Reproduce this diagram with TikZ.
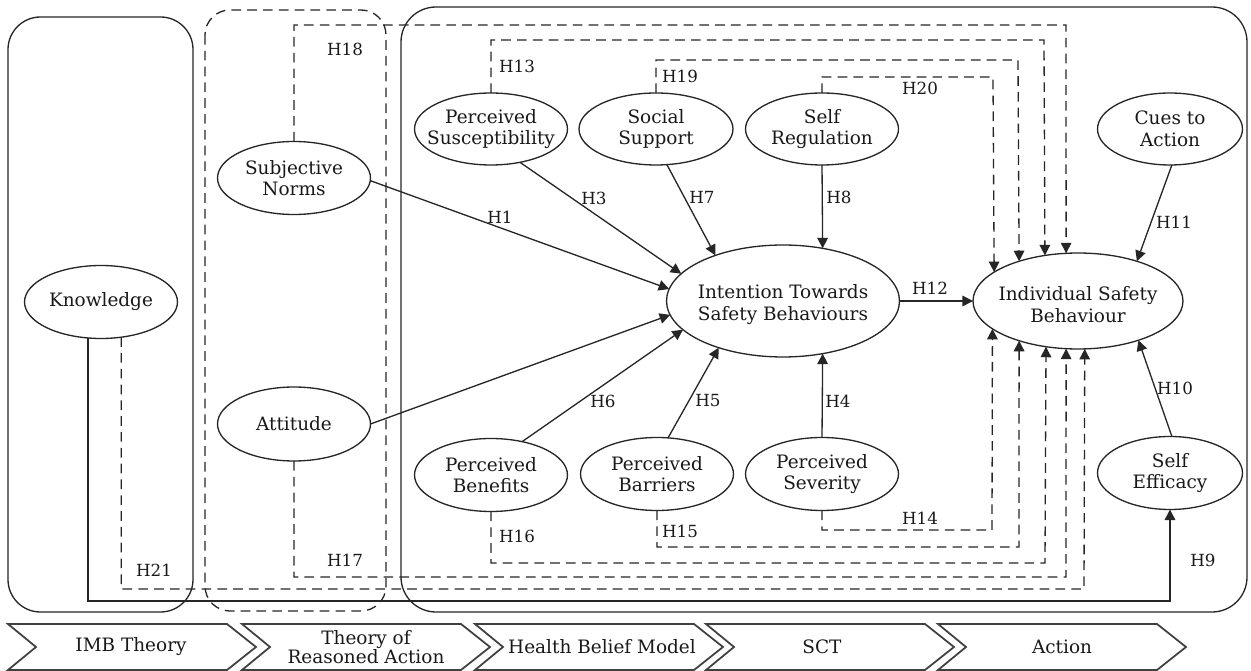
\documentclass[tikz,border=0pt]{standalone}
\usepackage{fontspec}
\setmainfont{DejaVu Serif}
\usetikzlibrary{arrows.meta,shapes.geometric}
\begin{document}
\begin{tikzpicture}[x=0.02cm,y=-0.02cm,
  ink/.style={draw=black!85, line width=0.75pt},
  el/.style={ink, fill=white, ellipse, inner sep=0pt, outer sep=0pt, minimum width=3.06cm, minimum height=1.46cm},
  et/.style={font=\fontsize{10.5}{12.3}\selectfont, align=center, inner sep=0pt, text=black!90},
  hl/.style={font=\fontsize{9.5}{11}\selectfont, inner sep=0pt, text=black!90},
  arr/.style={ink, -{Triangle[length=6pt,width=6pt]}},
  darr/.style={arr, dash pattern=on 5.5pt off 3.5pt},
  dline/.style={ink, dash pattern=on 5.5pt off 3.5pt},
  chev/.style={draw=black!75, line width=1pt, fill=white},
  ct/.style={font=\fontsize{10.5}{11}\selectfont, align=center, inner sep=0pt, text=black!90}
]
\useasboundingbox (0,0) rectangle (1251,671);
\fill[white] (0,0) rectangle (1251,671);

% framework boxes
\draw[ink, rounded corners=0.65cm] (8,17) rectangle (193,612);
\draw[dline, rounded corners=0.5cm] (205,10) rectangle (386,611);
\draw[ink, rounded corners=0.7cm] (401,7) rectangle (1247,612);

% ellipses
\node[el] (know) at (101,302) {};
\node[et] (know-t) at (know) {Knowledge};
\node[el] (sn) at (294,178) {};
\node[et] (sn-t) at (sn) {Subjective\\Norms};
\node[el, minimum height=1.48cm] (att) at (294,424) {};
\node[et] (att-t) at (att) {Attitude};
\node[el, minimum height=1.44cm] (susc) at (491,129) {};
\node[et] (susc-t) at (susc) {Perceived\\Susceptibility};
\node[el, minimum width=3.08cm, minimum height=1.44cm] (soc) at (656,129) {};
\node[et] (soc-t) at (soc) {Social\\Support};
\node[el, minimum height=1.44cm] (sreg) at (822,129) {};
\node[et] (sreg-t) at (sreg) {Self\\Regulation};
\node[el, minimum width=2.9cm, minimum height=1.44cm] (cues) at (1170,129) {};
\node[et] (cues-t) at (cues) {Cues to\\Action};
\node[el, minimum width=4.66cm, minimum height=2.24cm] (int) at (783,301) {};
\node[et] (int-t) at ([yshift=-2pt]int.center) {Intention Towards\\Safety Behaviours};
\node[el, minimum width=4.2cm, minimum height=1.92cm] (isb) at (1078,301) {};
\node[et] (isb-t) at ([yshift=-2pt]isb.center) {Individual Safety\\Behaviour};
\node[el] (ben) at (491,475) {};
\node[et] (ben-t) at (ben) {Perceived\\Benefits};
\node[el] (bar) at (657,474) {};
\node[et] (bar-t) at (bar) {Perceived\\Barriers};
\node[el] (sev) at (822,474) {};
\node[et] (sev-t) at (sev) {Perceived\\Severity};
\node[el, minimum width=2.9cm] (seff) at (1170,473) {};
\node[et] (seff-t) at (seff) {Self\\Efficacy};

% corner coordinates
\coordinate (c18) at (1066,25);
\coordinate (c13) at (1044,40);
\coordinate (c19) at (1018,60);
\coordinate (c20) at (993,77);
\coordinate (c14) at (992,530);
\coordinate (c15) at (1019,547);
\coordinate (c16) at (1045,563);
\coordinate (c17) at (1066,577);
\coordinate (c21) at (1084,589);
\coordinate (c9) at (1170,601);

% solid paths
\draw[arr] (sn.-2) -- (int.174);
\draw[arr] (att.east) -- (int.187);
\draw[arr] (susc.-49) -- (int.165);
\draw[arr] (soc.-73) -- (int.146);
\draw[arr] (sreg.south) -- (int.53.5);
\draw[arr] (ben.47) -- (int.196);
\draw[arr] (bar.73) -- (int.216);
\draw[arr] (sev.north) -- (int.-53.5);
\draw[arr] (int.east) -- (isb.west);
\draw[arr] (cues.-87) -- (isb.34);
\draw[arr] (seff.87) -- (isb.-33);
\draw[arr] (know.-110) |- (c9) -- (seff.south);

% dashed paths
\draw[darr] (sn.north) |- (c18) -- (isb.104.1);
\draw[darr] (susc.north) |- (c13) -- (isb.126.8);
\draw[darr] (soc.north) |- (c19) -- (isb.146.7);
\draw[darr] (sreg.north) |- (c20) -- (isb.161.7);
\draw[darr] (sev.south) |- (c14) -- (isb.-162.2);
\draw[darr] (bar.south) |- (c15) -- (isb.-146.1);
\draw[darr] (ben.south) |- (c16) -- (isb.-125.9);
\draw[darr] (att.south) |- (c17) -- (isb.-104.1);
\draw[darr] (know.-60.4) |- (c21) -- (isb.-82.9);

% hypothesis labels
\node[hl] (h1) at (500,217) {H1};
\node[hl] (h3) at (594,198) {H3};
\node[hl] (h7) at (702,197) {H7};
\node[hl] (h8) at (839,197) {H8};
\node[hl] (h6) at (603,401) {H6};
\node[hl] (h5) at (708,401) {H5};
\node[hl] (h4) at (838,401) {H4};
\node[hl] (h12) at (930,288) {H12};
\node[hl] (h11) at (1174,222) {H11};
\node[hl] (h10) at (1175,388) {H10};
\node[hl] (h9) at (1203,560) {H9};
\node[hl] (h18) at (345,49) {H18};
\node[hl] (h13) at (517,66) {H13};
\node[hl] (h19) at (680,76) {H19};
\node[hl] (h20) at (920,88) {H20};
\node[hl] (h14) at (920,518) {H14};
\node[hl] (h15) at (680,531) {H15};
\node[hl] (h16) at (517,536) {H16};
\node[hl] (h17) at (345,560) {H17};
\node[hl] (h21) at (154,570) {H21};

% chevrons
\foreach \L in {8,242,475,706,938}{
  \draw[chev] (\L,624) -- ++(219,0) -- ++(29,23) -- ++(-29,23) -- ++(-219,0) -- ++(28,-23) -- cycle;
}
\node[ct] (ch1) at (131,647) {IMB Theory};
\node[ct] (ch2) at (366,647) {Theory of\\Reasoned Action};
\node[ct] (ch3) at (602,647) {Health Belief Model};
\node[ct] (ch4) at (822,647) {SCT};
\node[ct] (ch5) at (1062,647) {Action};
\end{tikzpicture}
\end{document}
